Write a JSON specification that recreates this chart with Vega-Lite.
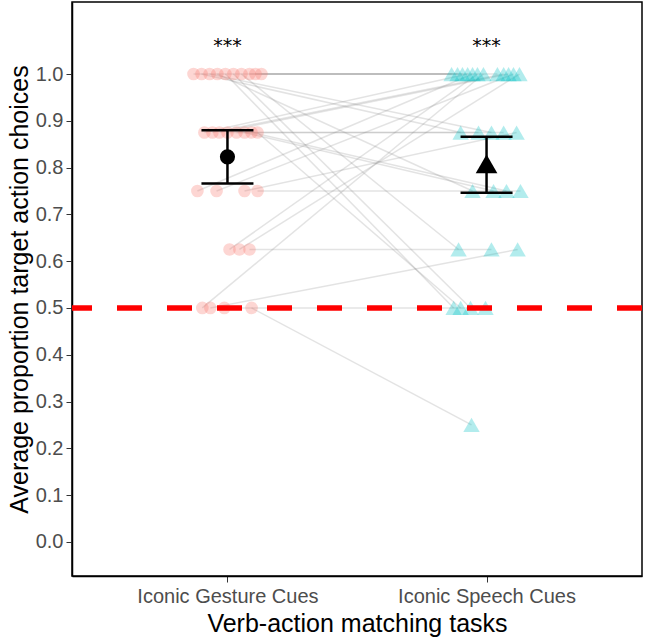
{
  "$schema": "https://vega.github.io/schema/vega-lite/v6.json",
  "autosize": "none",
  "width": 570,
  "height": 574,
  "padding": {"left": 72, "top": 2, "right": 5, "bottom": 62},
  "background": "white",
  "config": {
    "view": {"stroke": "black", "strokeWidth": 1.5},
    "font": "Liberation Sans",
    "axis": {
      "grid": false,
      "domainColor": "black",
      "domainWidth": 1.5,
      "tickColor": "#333333",
      "tickSize": 6,
      "labelColor": "#4D4D4D",
      "labelFont": "Liberation Sans",
      "labelFontSize": 20,
      "labelLimit": 400,
      "titleFont": "Liberation Sans",
      "titleFontSize": 25,
      "titleFontWeight": "normal",
      "titleColor": "black"
    }
  },
  "datasets": {
    "pts": [
      {"id": 1, "task": "Iconic Gesture Cues", "x": 1.131, "y": 1.0},
      {"id": 2, "task": "Iconic Gesture Cues", "x": 1.108, "y": 1.0},
      {"id": 3, "task": "Iconic Gesture Cues", "x": 1.085, "y": 1.0},
      {"id": 4, "task": "Iconic Gesture Cues", "x": 0.869, "y": 1.0},
      {"id": 5, "task": "Iconic Gesture Cues", "x": 0.900, "y": 1.0},
      {"id": 6, "task": "Iconic Gesture Cues", "x": 0.931, "y": 1.0},
      {"id": 7, "task": "Iconic Gesture Cues", "x": 0.961, "y": 1.0},
      {"id": 8, "task": "Iconic Gesture Cues", "x": 0.992, "y": 1.0},
      {"id": 9, "task": "Iconic Gesture Cues", "x": 1.023, "y": 1.0},
      {"id": 10, "task": "Iconic Gesture Cues", "x": 1.054, "y": 1.0},
      {"id": 11, "task": "Iconic Gesture Cues", "x": 0.911, "y": 0.875},
      {"id": 12, "task": "Iconic Gesture Cues", "x": 0.942, "y": 0.875},
      {"id": 13, "task": "Iconic Gesture Cues", "x": 0.969, "y": 0.875},
      {"id": 14, "task": "Iconic Gesture Cues", "x": 1.000, "y": 0.875},
      {"id": 15, "task": "Iconic Gesture Cues", "x": 1.035, "y": 0.875},
      {"id": 16, "task": "Iconic Gesture Cues", "x": 1.066, "y": 0.875},
      {"id": 17, "task": "Iconic Gesture Cues", "x": 1.093, "y": 0.875},
      {"id": 18, "task": "Iconic Gesture Cues", "x": 1.116, "y": 0.875},
      {"id": 19, "task": "Iconic Gesture Cues", "x": 0.884, "y": 0.75},
      {"id": 20, "task": "Iconic Gesture Cues", "x": 0.958, "y": 0.75},
      {"id": 21, "task": "Iconic Gesture Cues", "x": 1.066, "y": 0.75},
      {"id": 22, "task": "Iconic Gesture Cues", "x": 1.116, "y": 0.75},
      {"id": 23, "task": "Iconic Gesture Cues", "x": 1.008, "y": 0.625},
      {"id": 24, "task": "Iconic Gesture Cues", "x": 1.046, "y": 0.625},
      {"id": 25, "task": "Iconic Gesture Cues", "x": 1.085, "y": 0.625},
      {"id": 26, "task": "Iconic Gesture Cues", "x": 0.903, "y": 0.5},
      {"id": 27, "task": "Iconic Gesture Cues", "x": 0.934, "y": 0.5},
      {"id": 28, "task": "Iconic Gesture Cues", "x": 0.988, "y": 0.5},
      {"id": 29, "task": "Iconic Gesture Cues", "x": 1.093, "y": 0.5},
      {"id": 1, "task": "Iconic Speech Cues", "x": 1.865, "y": 1.0},
      {"id": 2, "task": "Iconic Speech Cues", "x": 1.888, "y": 1.0},
      {"id": 3, "task": "Iconic Speech Cues", "x": 1.907, "y": 1.0},
      {"id": 4, "task": "Iconic Speech Cues", "x": 2.042, "y": 1.0},
      {"id": 5, "task": "Iconic Speech Cues", "x": 1.900, "y": 0.875},
      {"id": 6, "task": "Iconic Speech Cues", "x": 2.019, "y": 0.875},
      {"id": 7, "task": "Iconic Speech Cues", "x": 1.946, "y": 0.75},
      {"id": 8, "task": "Iconic Speech Cues", "x": 1.873, "y": 0.5},
      {"id": 9, "task": "Iconic Speech Cues", "x": 1.938, "y": 0.5},
      {"id": 10, "task": "Iconic Speech Cues", "x": 1.892, "y": 0.625},
      {"id": 11, "task": "Iconic Speech Cues", "x": 1.927, "y": 1.0},
      {"id": 12, "task": "Iconic Speech Cues", "x": 2.066, "y": 1.0},
      {"id": 13, "task": "Iconic Speech Cues", "x": 2.085, "y": 1.0},
      {"id": 14, "task": "Iconic Speech Cues", "x": 1.969, "y": 0.875},
      {"id": 15, "task": "Iconic Speech Cues", "x": 2.066, "y": 0.875},
      {"id": 16, "task": "Iconic Speech Cues", "x": 2.027, "y": 0.75},
      {"id": 17, "task": "Iconic Speech Cues", "x": 2.077, "y": 0.75},
      {"id": 18, "task": "Iconic Speech Cues", "x": 1.900, "y": 0.5},
      {"id": 19, "task": "Iconic Speech Cues", "x": 1.946, "y": 1.0},
      {"id": 20, "task": "Iconic Speech Cues", "x": 2.104, "y": 1.0},
      {"id": 21, "task": "Iconic Speech Cues", "x": 2.116, "y": 0.875},
      {"id": 22, "task": "Iconic Speech Cues", "x": 2.131, "y": 0.75},
      {"id": 23, "task": "Iconic Speech Cues", "x": 1.965, "y": 1.0},
      {"id": 24, "task": "Iconic Speech Cues", "x": 2.127, "y": 1.0},
      {"id": 25, "task": "Iconic Speech Cues", "x": 2.019, "y": 0.625},
      {"id": 26, "task": "Iconic Speech Cues", "x": 1.988, "y": 1.0},
      {"id": 27, "task": "Iconic Speech Cues", "x": 2.120, "y": 0.625},
      {"id": 28, "task": "Iconic Speech Cues", "x": 1.996, "y": 0.5},
      {"id": 29, "task": "Iconic Speech Cues", "x": 1.942, "y": 0.25}
    ],
    "summary": [
      {"task": "Iconic Gesture Cues", "x": 1, "mean": 0.823, "lo": 0.766, "hi": 0.880},
      {"task": "Iconic Speech Cues", "x": 2, "mean": 0.808, "lo": 0.746, "hi": 0.866}
    ],
    "stars": [
      {"x": 1, "y": 1.06, "label": "***"},
      {"x": 2, "y": 1.06, "label": "***"}
    ],
    "chance": [{"y": 0.5}]
  },
  "layer": [
    {
      "data": {"name": "pts"},
      "mark": {"type": "line", "color": "#7f7f7f", "opacity": 0.22, "strokeWidth": 1.5},
      "encoding": {
        "x": {"field": "x", "type": "quantitative", "scale": {"domain": [0.4, 2.6], "nice": false, "zero": false},
              "axis": {"values": [1, 2], "labelExpr": "datum.value == 1 ? 'Iconic Gesture Cues' : 'Iconic Speech Cues'", "labelPadding": 4, "titlePadding": 5, "labelLimit": 400},
              "title": "Verb-action matching tasks"},
        "y": {"field": "y", "type": "quantitative", "scale": {"domain": [-0.073, 1.154], "nice": false, "zero": false},
              "axis": {"values": [0, 0.1, 0.2, 0.3, 0.4, 0.5, 0.6, 0.7, 0.8, 0.9, 1.0], "format": ".1f", "labelPadding": 3, "titlePadding": 3},
              "title": "Average proportion target action choices"},
        "detail": {"field": "id", "type": "nominal"},
        "order": {"field": "x", "type": "quantitative"}
      }
    },
    {
      "data": {"name": "pts"},
      "transform": [{"filter": "datum.task == 'Iconic Gesture Cues'"}],
      "mark": {"type": "point", "shape": "circle", "filled": true, "color": "#F8766D", "opacity": 0.3, "size": 160},
      "encoding": {
        "x": {"field": "x", "type": "quantitative", "title": "Verb-action matching tasks"},
        "y": {"field": "y", "type": "quantitative", "title": "Average proportion target action choices"}
      }
    },
    {
      "data": {"name": "pts"},
      "transform": [{"filter": "datum.task == 'Iconic Speech Cues'"}],
      "mark": {"type": "point", "shape": "triangle-up", "filled": true, "color": "#00BFC4", "opacity": 0.3, "size": 270},
      "encoding": {
        "x": {"field": "x", "type": "quantitative", "title": "Verb-action matching tasks"},
        "y": {"field": "y", "type": "quantitative", "title": "Average proportion target action choices"}
      }
    },
    {
      "data": {"name": "chance"},
      "mark": {"type": "rule", "color": "#FF0000", "strokeWidth": 5.5, "strokeDash": [25, 25]},
      "encoding": {
        "y": {"field": "y", "type": "quantitative", "title": "Average proportion target action choices"}
      }
    },
    {
      "data": {"name": "summary"},
      "mark": {"type": "rule", "color": "black", "strokeWidth": 2.5},
      "encoding": {
        "x": {"field": "x", "type": "quantitative", "title": "Verb-action matching tasks"},
        "y": {"field": "lo", "type": "quantitative", "title": "Average proportion target action choices"},
        "y2": {"field": "hi"}
      }
    },
    {
      "data": {"name": "summary"},
      "mark": {"type": "tick", "orient": "horizontal", "color": "black", "thickness": 2.5, "size": 52, "opacity": 1},
      "encoding": {
        "x": {"field": "x", "type": "quantitative", "title": "Verb-action matching tasks"},
        "y": {"field": "lo", "type": "quantitative", "title": "Average proportion target action choices"}
      }
    },
    {
      "data": {"name": "summary"},
      "mark": {"type": "tick", "orient": "horizontal", "color": "black", "thickness": 2.5, "size": 52, "opacity": 1},
      "encoding": {
        "x": {"field": "x", "type": "quantitative", "title": "Verb-action matching tasks"},
        "y": {"field": "hi", "type": "quantitative", "title": "Average proportion target action choices"}
      }
    },
    {
      "data": {"name": "summary"},
      "transform": [{"filter": "datum.x == 1"}],
      "mark": {"type": "point", "shape": "circle", "filled": true, "color": "black", "opacity": 1, "size": 230},
      "encoding": {
        "x": {"field": "x", "type": "quantitative", "title": "Verb-action matching tasks"},
        "y": {"field": "mean", "type": "quantitative", "title": "Average proportion target action choices"}
      }
    },
    {
      "data": {"name": "summary"},
      "transform": [{"filter": "datum.x == 2"}],
      "mark": {"type": "point", "shape": "triangle-up", "filled": true, "color": "black", "opacity": 1, "size": 470},
      "encoding": {
        "x": {"field": "x", "type": "quantitative", "title": "Verb-action matching tasks"},
        "y": {"field": "mean", "type": "quantitative", "title": "Average proportion target action choices"}
      }
    },
    {
      "data": {"name": "stars"},
      "mark": {"type": "text", "fontSize": 19, "color": "black", "baseline": "middle", "align": "center", "font": "DejaVu Sans"},
      "encoding": {
        "x": {"field": "x", "type": "quantitative", "title": "Verb-action matching tasks"},
        "y": {"field": "y", "type": "quantitative", "title": "Average proportion target action choices"},
        "text": {"field": "label"}
      }
    }
  ]
}
